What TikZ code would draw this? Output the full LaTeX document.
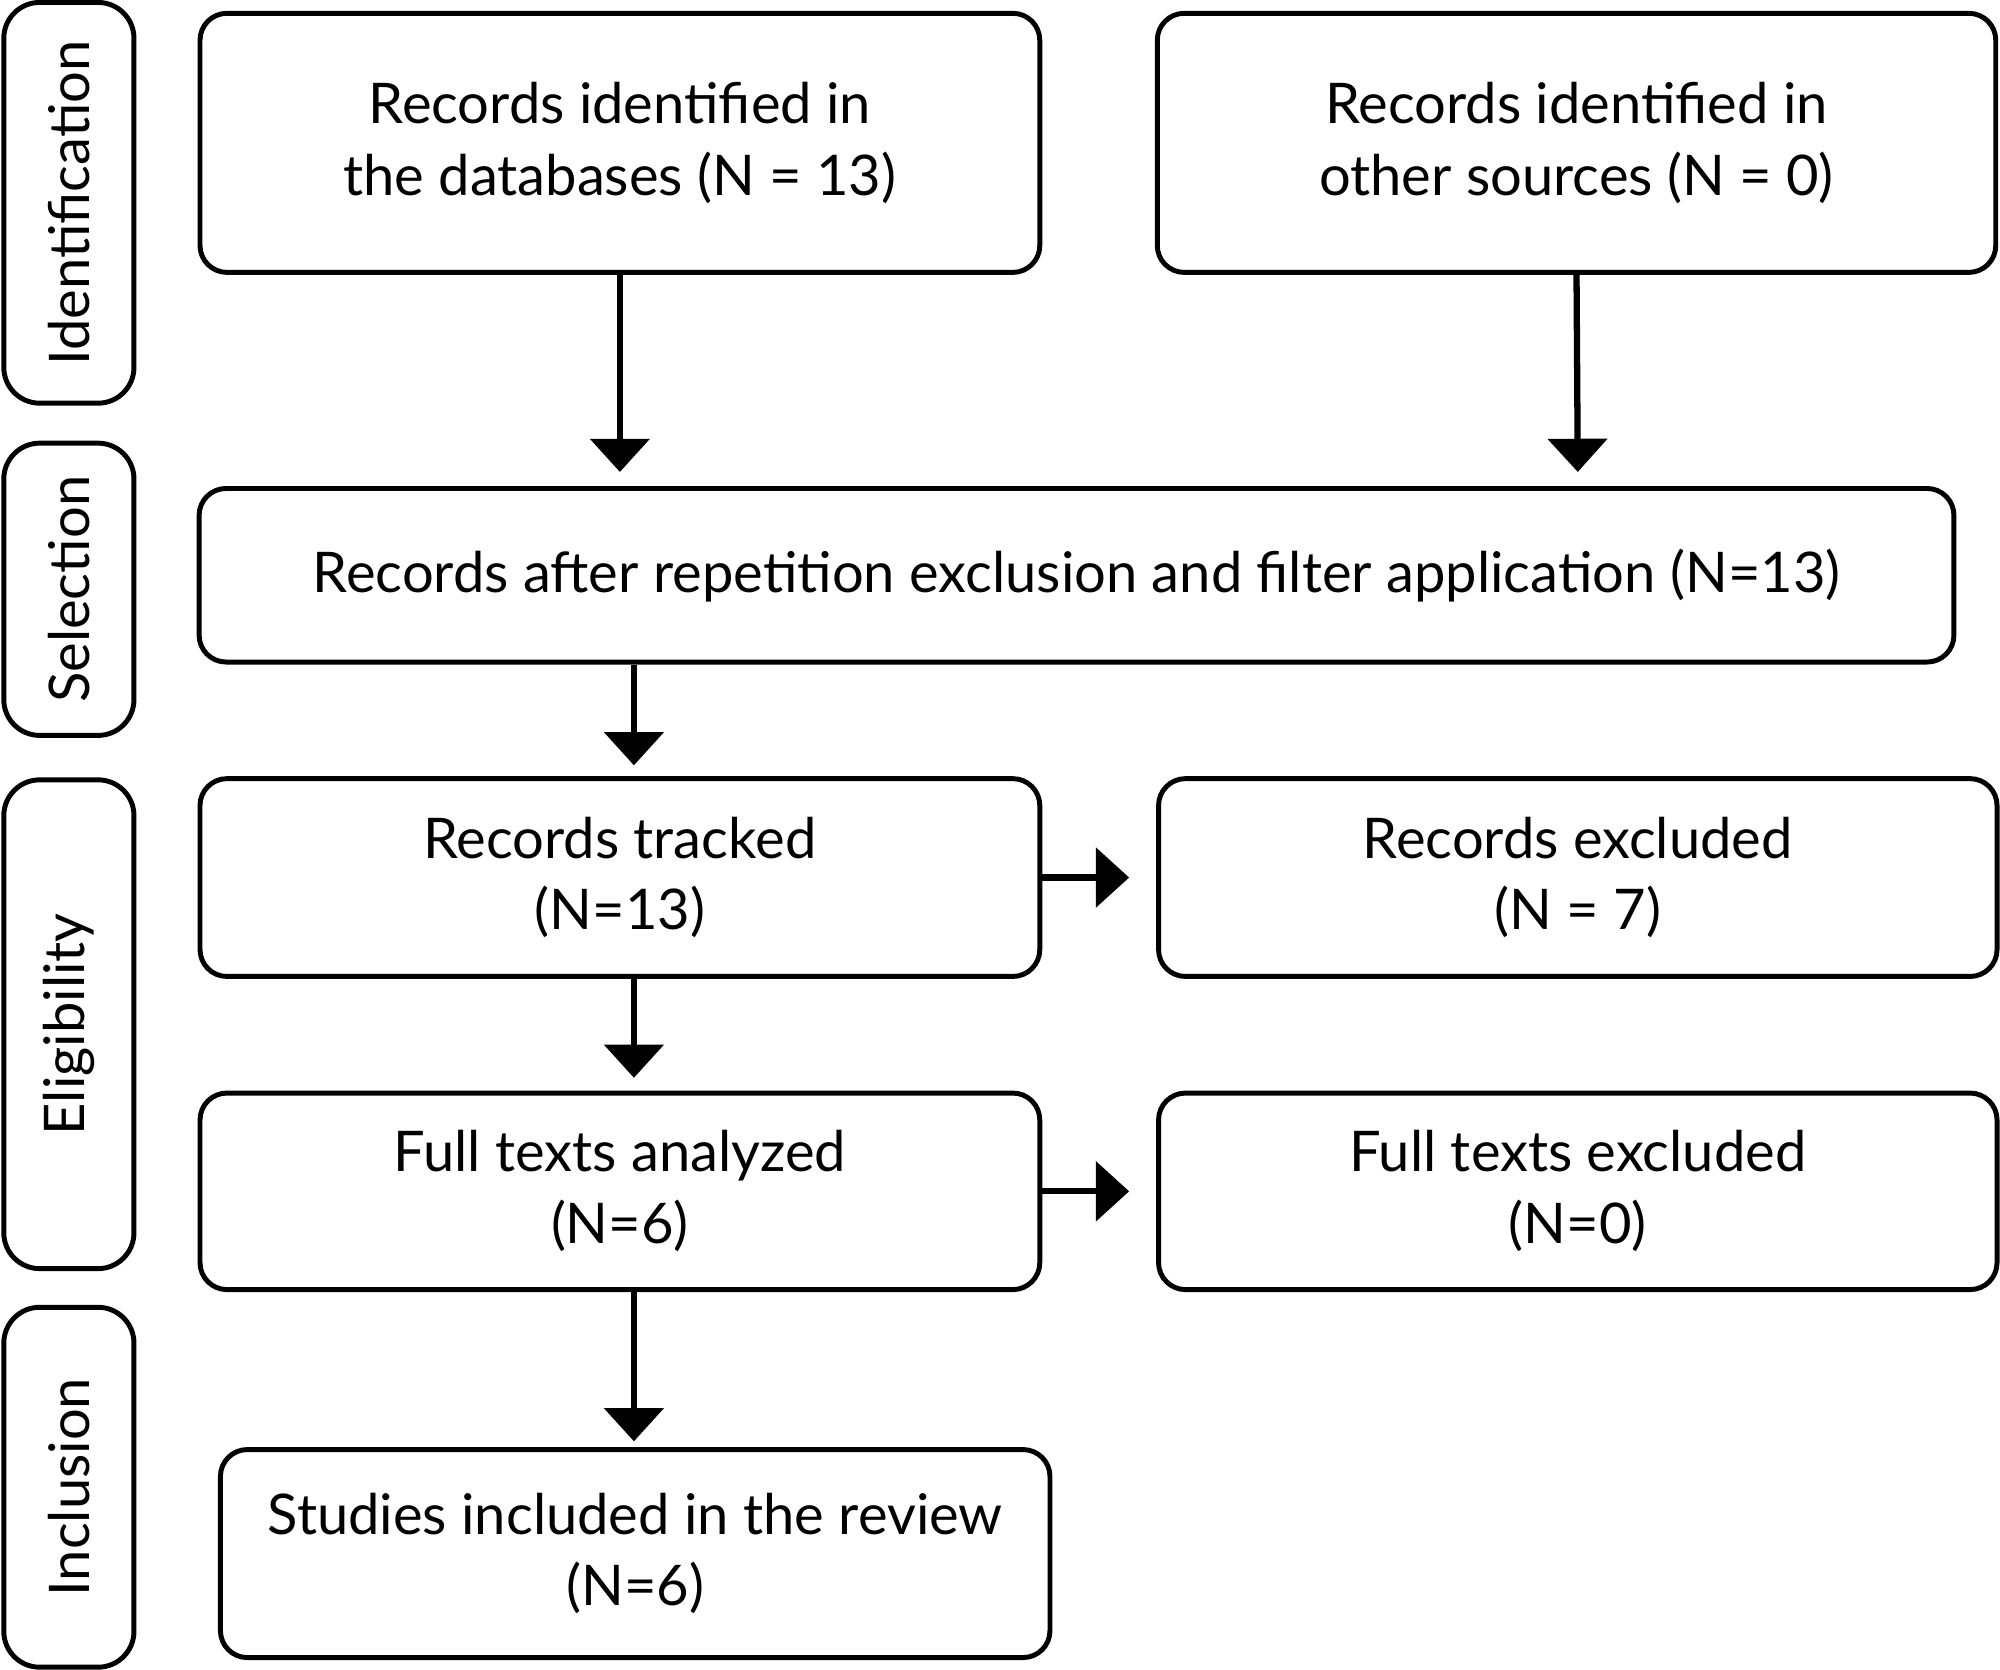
\documentclass[tikz,border=0pt]{standalone}
\usepackage{fontspec}
\setmainfont{Lato}
\usetikzlibrary{positioning,arrows.meta}

\tikzset{
  box/.style={draw, line width=1.1pt, rounded corners=6pt, align=center,
    font=\fontsize{12.5}{16}\selectfont, inner sep=0pt},
  stage/.style={box, rounded corners=8pt, minimum width=1.02cm},
  link/.style={line width=1.4pt, -{Triangle[width=0.46cm,length=0.26cm]}},
}

\begin{document}
\begin{tikzpicture}[x=0.01cm, y=-0.01cm]
  \useasboundingbox (0,0) rectangle (1568,1309);

  % stage labels on the left
  \node[stage, minimum height=3.14cm] (ident) at (54,159) {\rotatebox{90}{Identification}};
  \node[stage, minimum height=2.29cm] (selec) at (54,462) {\rotatebox{90}{Selection}};
  \node[stage, minimum height=3.83cm] (elig) at (54,803) {\rotatebox{90}{Eligibility}};
  \node[stage, minimum height=2.82cm] (incl) at (54,1166) {\rotatebox{90}{Inclusion}};

  % main boxes
  \node[box, minimum width=6.58cm, minimum height=2.03cm] (dbs) at (486,112)
    {Records identified in\\the databases (N = 13)};
  \node[box, minimum width=6.57cm, minimum height=2.03cm] (other) at (1236,112)
    {Records identified in\\other sources (N = 0)};
  \node[box, minimum width=13.75cm, minimum height=1.36cm] (filter) at (844,451)
    {Records after repetition exclusion and filter application (N=13)};
  \node[box, minimum width=6.58cm, minimum height=1.55cm] (tracked) at (486,688)
    {Records tracked\\(N=13)};
  \node[box, minimum width=6.57cm, minimum height=1.55cm] (excl) at (1237,688)
    {Records excluded\\(N = 7)};
  \node[box, minimum width=6.58cm, minimum height=1.54cm] (full) at (486,934)
    {Full texts analyzed\\(N=6)};
  \node[box, minimum width=6.57cm, minimum height=1.54cm] (fullex) at (1237,934)
    {Full texts excluded\\(N=0)};
  \node[box, minimum width=6.50cm, minimum height=1.63cm] (incl box) at (498,1218)
    {Studies included in the review\\(N=6)};

  % connectors
  \coordinate (dbs end) at (486,370);
  \coordinate (other end) at (1237,370);
  \draw[link] (dbs.south) -- (dbs end);
  \draw[link] (other.south) -- (other end);
  \draw[link] (filter.south -| 497,0) -- (497,600);
  \draw[link] (tracked.south -| 497,0) -- (497,845);
  \draw[link] (full.south -| 497,0) -- (497,1130);
  \draw[link] (tracked.east) -- ([xshift=-6pt]excl.west);
  \draw[link] (full.east) -- ([xshift=-6pt]fullex.west);
\end{tikzpicture}
\end{document}
